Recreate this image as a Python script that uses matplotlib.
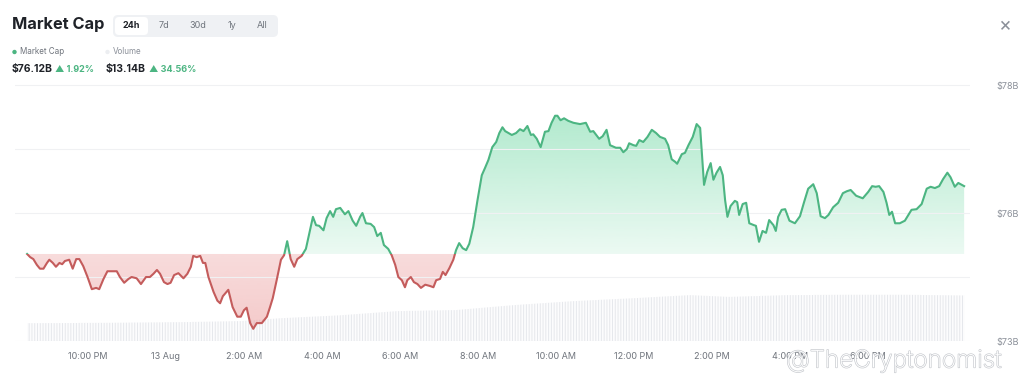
import numpy as np
import matplotlib
matplotlib.use("Agg")
import matplotlib.pyplot as plt
from matplotlib.path import Path
from matplotlib.patches import Rectangle, FancyBboxPatch, Circle
import matplotlib.patheffects as pe

plt.rcParams["font.family"] = ["Inter", "DejaVu Sans"]
plt.rcParams["hatch.linewidth"] = 0.7

# market cap, hours since 20:26 on 12 Aug, values in $B
hours = [
    0.00, 0.08, 0.16, 0.25, 0.33, 0.42, 0.51, 0.57, 0.66, 0.74, 0.83, 0.90, 0.97, 1.08, 1.17, 1.26,
    1.34, 1.44, 1.55, 1.66, 1.77, 1.85, 1.96, 2.06, 2.17, 2.30, 2.38, 2.49, 2.60, 2.68, 2.81, 2.92,
    3.05, 3.15, 3.24, 3.33, 3.41, 3.51, 3.60, 3.68, 3.77, 3.88, 4.01, 4.11, 4.20, 4.26, 4.35, 4.44,
    4.51, 4.57, 4.65, 4.78, 4.88, 4.95, 5.02, 5.16, 5.27, 5.39, 5.48, 5.56, 5.63, 5.72, 5.80, 5.89,
    6.02, 6.15, 6.23, 6.30, 6.40, 6.51, 6.59, 6.67, 6.76, 6.85, 6.93, 7.04, 7.15, 7.24, 7.33, 7.41,
    7.49, 7.60, 7.68, 7.77, 7.85, 7.92, 8.03, 8.15, 8.24, 8.35, 8.44, 8.54, 8.60, 8.69, 8.81, 8.90,
    8.98, 9.07, 9.15, 9.26, 9.35, 9.44, 9.52, 9.61, 9.69, 9.75, 9.84, 9.92, 10.01, 10.10, 10.21, 10.33,
    10.42, 10.49, 10.59, 10.66, 10.73, 10.83, 10.93, 11.00, 11.08, 11.17, 11.26, 11.34, 11.44, 11.55, 11.66, 11.74,
    11.83, 11.93, 12.03, 12.11, 12.19, 12.26, 12.43, 12.54, 12.64, 12.73, 12.83, 12.92, 12.98, 13.07, 13.17, 13.28,
    13.37, 13.45, 13.54, 13.60, 13.68, 13.77, 13.88, 14.01, 14.18, 14.33, 14.44, 14.52, 14.67, 14.76, 14.86, 14.95,
    15.10, 15.21, 15.29, 15.38, 15.44, 15.55, 15.62, 15.70, 15.80, 15.91, 16.02, 16.13, 16.23, 16.36, 16.44, 16.53,
    16.62, 16.67, 16.79, 16.87, 16.96, 17.07, 17.17, 17.26, 17.31, 17.36, 17.44, 17.53, 17.60, 17.68, 17.77, 17.84,
    17.90, 17.96, 18.04, 18.15, 18.21, 18.26, 18.35, 18.44, 18.52, 18.64, 18.69, 18.77, 18.86, 18.95, 19.03, 19.14,
    19.20, 19.26, 19.35, 19.44, 19.55, 19.69, 19.82, 19.92, 20.03, 20.16, 20.25, 20.35, 20.46, 20.55, 20.67, 20.80,
    20.92, 21.02, 21.12, 21.26, 21.43, 21.57, 21.67, 21.76, 21.85, 21.96, 22.04, 22.11, 22.18, 22.26, 22.38, 22.51,
    22.68, 22.81, 22.94, 23.07, 23.17, 23.28, 23.39, 23.49, 23.60, 23.68, 23.79, 23.88, 23.97, 24.03,
]
market_cap = [
    75.36, 75.31, 75.28, 75.19, 75.13, 75.13, 75.22, 75.27, 75.22, 75.16, 75.22, 75.20, 75.25, 75.27, 75.13, 75.28,
    75.28, 75.17, 75.00, 74.81, 74.83, 74.81, 74.97, 75.09, 75.09, 75.09, 75.00, 74.91, 74.97, 75.00, 74.98, 74.89,
    75.00, 75.00, 75.05, 75.11, 75.05, 74.92, 74.89, 74.91, 75.03, 75.06, 74.98, 75.05, 75.16, 75.33, 75.31, 75.33,
    75.22, 75.22, 75.00, 74.77, 74.63, 74.59, 74.70, 74.80, 74.53, 74.38, 74.38, 74.48, 74.52, 74.28, 74.19, 74.28,
    74.28, 74.38, 74.53, 74.67, 74.95, 75.27, 75.34, 75.56, 75.28, 75.16, 75.28, 75.33, 75.44, 75.69, 75.94, 75.81,
    75.80, 75.73, 75.92, 76.03, 75.94, 76.06, 76.08, 75.98, 76.03, 75.88, 75.80, 75.94, 76.00, 75.84, 75.83, 75.78,
    75.64, 75.69, 75.50, 75.44, 75.34, 75.19, 75.00, 74.95, 74.84, 74.95, 75.00, 74.92, 74.89, 74.83, 74.88, 74.86,
    74.84, 74.95, 74.97, 75.08, 75.03, 75.14, 75.27, 75.42, 75.53, 75.45, 75.42, 75.52, 75.78, 76.20, 76.59, 76.70,
    76.83, 77.03, 77.11, 77.25, 77.34, 77.28, 77.22, 77.25, 77.31, 77.28, 77.36, 77.22, 77.23, 77.16, 77.03, 77.27,
    77.28, 77.41, 77.52, 77.52, 77.45, 77.48, 77.44, 77.41, 77.39, 77.41, 77.27, 77.28, 77.16, 77.20, 77.30, 77.06,
    77.02, 77.02, 76.95, 77.00, 77.09, 77.06, 77.05, 77.14, 77.11, 77.19, 77.30, 77.25, 77.19, 77.16, 77.06, 76.84,
    76.80, 76.77, 76.92, 76.94, 77.06, 77.19, 77.39, 77.33, 76.88, 76.44, 76.64, 76.78, 76.52, 76.63, 76.72, 76.59,
    76.20, 75.94, 76.11, 76.19, 76.17, 75.97, 76.14, 76.16, 75.84, 75.81, 75.80, 75.55, 75.72, 75.69, 75.89, 75.81,
    75.72, 75.94, 76.05, 76.06, 75.88, 75.84, 75.95, 76.16, 76.38, 76.45, 76.31, 75.95, 75.92, 75.97, 76.09, 76.16,
    76.31, 76.34, 76.36, 76.27, 76.23, 76.33, 76.42, 76.41, 76.42, 76.33, 76.16, 75.97, 76.02, 75.84, 75.84, 75.88,
    76.05, 76.06, 76.14, 76.38, 76.41, 76.39, 76.42, 76.53, 76.63, 76.56, 76.41, 76.47, 76.44, 76.42,
]

# 24h volume, $B
vol_hours = [0.0, 2.0, 4.0, 5.5, 6.5, 8.0, 9.5, 11.0, 12.5, 14.0, 15.5, 17.0, 18.0, 19.5, 21.0, 22.5, 24.03]
volume = [5.0, 5.1, 5.3, 5.6, 6.4, 7.2, 8.4, 8.7, 10.1, 11.2, 12.0, 12.9, 12.4, 12.9, 13.0, 13.0, 12.8]

tick_clock = [22, 24, 26, 28, 30, 32, 34, 36, 38, 40, 42]
tick_labels = ["10:00 PM", "13 Aug", "2:00 AM", "4:00 AM", "6:00 AM", "8:00 AM",
               "10:00 AM", "12:00 PM", "2:00 PM", "4:00 PM", "6:00 PM"]
start_clock = 20.44

y_ticks = [78, 76, 74]
y_tick_labels = ["$78B", "$76B", "$73B"]

GREEN = "#4cb582"
RED = "#c45c5c"

t = np.array(hours)
v = np.array(market_cap)
base = v[0]

fig = plt.figure(figsize=(10.24, 3.84), dpi=100)
W, H = 1024, 384
ax = fig.add_axes([15 / W, 1 - 341 / H, (970 - 15) / W, (341 - 78) / H])
xlim = (-0.31, 24.18)
ylim = (74.0, 78.11)

# volume in the background
axv = ax.twinx()
axv.set_zorder(ax.get_zorder() - 1)
ax.patch.set_visible(False)
axv.fill_between(vol_hours, 0, volume, facecolor="#fcfcfd", edgecolor="#e6e8ec",
                 hatch="|" * 6, linewidth=0)
axv.set_ylim(0, 74)
axv.set_xlim(*xlim)
axv.axis("off")


def gradient_fill(above, color, a_near, a_far, far):
    where = v >= base if above else v <= base
    poly = ax.fill_between(t, v, base, where=where, interpolate=True,
                           facecolor="none", edgecolor="none")
    clip = Path.make_compound_path(*poly.get_paths())
    rgb = np.array(matplotlib.colors.to_rgb(color))
    n = 256
    alpha = np.linspace(a_near, a_far, n)
    img = np.zeros((n, 1, 4))
    img[:, 0, :3] = rgb
    img[:, 0, 3] = alpha
    lo, hi = (base, far) if above else (far, base)
    im = ax.imshow(img, aspect="auto", extent=[t[0], t[-1], lo, hi],
                   origin="lower" if above else "upper", zorder=1)
    im.set_clip_path(clip, ax.transData)


gradient_fill(True, "#4fcf8f", 0.11, 0.45, 77.6)
gradient_fill(False, "#e88a8a", 0.30, 0.45, 74.15)

# line coloured by side of baseline
for col, lo, hi in [(GREEN, base, 80), (RED, 70, base)]:
    ln, = ax.plot(t, v, color=col, lw=1.5, zorder=3, solid_joinstyle="round")
    rect = Rectangle((-5, lo), 40, hi - lo, transform=ax.transData)
    ln.set_clip_path(rect)

ax.set_xlim(*xlim)
ax.set_ylim(*ylim)
ax.set_yticks(y_ticks)
ax.set_yticklabels(y_tick_labels)
ax.set_yticks([75, 77], minor=True)
ax.yaxis.tick_right()
ax.tick_params(axis="y", which="both", length=0, pad=19, labelsize=6.5, labelcolor="#8b9099")
ax.grid(axis="y", which="both", color="#f0f1f3", lw=0.8)
ax.set_xticks([c - start_clock for c in tick_clock])
ax.set_xticklabels(tick_labels)
ax.tick_params(axis="x", length=0, pad=8, labelsize=6.5, labelcolor="#6f747c")
for s in ax.spines.values():
    s.set_visible(False)

# header
fig.text(12 / W, 1 - 25 / H, "Market Cap", fontsize=11.8, fontweight="bold",
         color="#1f2228", va="center")
fig.add_artist(FancyBboxPatch((113, H - 37), 165, 22, boxstyle="round,pad=0,rounding_size=5",
                              transform=None, facecolor="#eff1f4", edgecolor="none"))
fig.add_artist(FancyBboxPatch((115, H - 35), 33, 18, boxstyle="round,pad=0,rounding_size=4",
                              transform=None, facecolor="white", edgecolor="none"))
periods = ["24h", "7d", "30d", "1y", "All"]
period_x = [131, 164, 198, 232, 262]
for lab, x in zip(periods, period_x):
    fig.text(x / W, 1 - 26 / H, lab, fontsize=6.5, ha="center", va="center",
             color="#1f2228" if lab == "24h" else "#6f747c",
             fontweight="bold" if lab == "24h" else "normal")

fig.add_artist(Circle((14.5, H - 52), 2.2, transform=None, facecolor=GREEN, edgecolor="none"))
fig.text(20 / W, 1 - 52 / H, "Market Cap", fontsize=5.8, color="#6f747c", va="center")
fig.add_artist(Circle((107.5, H - 52), 2.2, transform=None, facecolor="#eceef1", edgecolor="none"))
fig.text(113 / W, 1 - 52 / H, "Volume", fontsize=5.8, color="#8b9099", va="center")

fig.text(12 / W, 1 - 69 / H, "$76.12B", fontsize=7.5, fontweight="bold", color="#1f2228", va="center")
fig.text(55 / W, 1 - 69 / H, "\u25b2 1.92%", fontsize=6.5, fontweight="bold", color=GREEN, va="center")
fig.text(106 / W, 1 - 69 / H, "$13.14B", fontsize=7.5, fontweight="bold", color="#1f2228", va="center")
fig.text(149 / W, 1 - 69 / H, "\u25b2 34.56%", fontsize=6.5, fontweight="bold", color=GREEN, va="center")

fig.text(1005 / W, 1 - 26 / H, "\u00d7", fontsize=14, color="#8b9099", ha="center", va="center")

# watermark
fig.text(786 / W, 1 - 361 / H, "@TheCryptonomist", fontsize=17.5, color="white", va="center",
         fontweight="light",
         path_effects=[pe.withStroke(linewidth=0.9, foreground="#c4c7cc")], zorder=10)

fig.savefig("out.png", dpi=100, facecolor="white")
